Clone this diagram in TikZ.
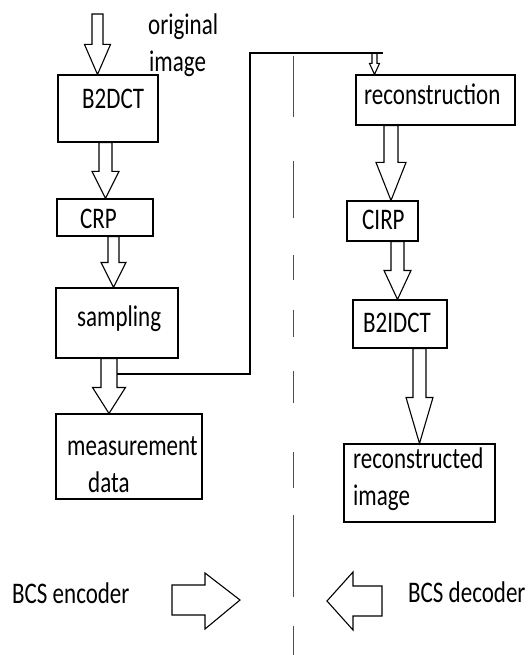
\documentclass[tikz,border=0pt]{standalone}
\usepackage{fontspec}
\setmainfont{Carlito}
\usetikzlibrary{calc}

\tikzset{
  box/.style={draw=black, line width=1.1pt, inner sep=0pt},
  flow/.style={draw=black, line width=1.1pt, line join=miter},
  divider/.style={draw=black!70, line width=1.2pt},
  lbl/.style={font=\fontsize{23}{28.5}\selectfont, inner sep=0pt,
              anchor=base west, yscale=1.3, transform shape}
}

% hollow down arrow: x, from, to, shaft half width, head half width, head length
\newcommand{\fatarrow}[6]{%
  \draw[flow] let \p1=(#2), \p2=(#3) in
    ({(#1-#4)*1pt},\y1) -- ({(#1-#4)*1pt},{\y2+#6pt})
    -- ({(#1-#5)*1pt},{\y2+#6pt}) -- ({#1*1pt},\y2)
    -- ({(#1+#5)*1pt},{\y2+#6pt}) -- ({(#1+#4)*1pt},{\y2+#6pt})
    -- ({(#1+#4)*1pt},\y1) -- cycle;}

\begin{document}
\begin{tikzpicture}[x=1pt, y=-1pt]
  \useasboundingbox (0,0) rectangle (529,655);

  %% encoder side
  \node[box, minimum width=100pt, minimum height=67pt] (b2dct) at (108,108.5) {};
  \node[lbl] (t-b2dct) at (82,109) {B2DCT};
  \node[box, minimum width=96pt, minimum height=37pt] (crp) at (105,217.5) {};
  \node[lbl] (t-crp) at (80,228) {CRP};
  \node[box, minimum width=122pt, minimum height=70pt] (samp) at (117,323) {};
  \node[lbl] (t-samp) at (77,326) {sampling};
  \node[box, minimum width=146pt, minimum height=85pt] (meas) at (129,456.5) {};
  \node[lbl] (t-meas1) at (67,455) {measurement};
  \node[lbl] (t-meas2) at (88,492) {data};

  \node[lbl] (t-orig1) at (148,35) {original};
  \node[lbl] (t-orig2) at (149,72) {image};

  \coordinate (src) at (97.5,14);
  \fatarrow{97.5}{src}{b2dct.north}{5.5}{13}{30}
  \fatarrow{105.5}{b2dct.south}{crp.north}{6.5}{13.5}{27}
  \fatarrow{113.5}{crp.south}{samp.north}{5.5}{12.5}{25}
  \fatarrow{109}{samp.south}{meas.north}{8}{16.5}{26}

  %% decoder side
  \node[box, minimum width=159pt, minimum height=50pt] (recon) at (435.5,100) {};
  \node[lbl] (t-recon) at (364,105) {reconstruction};
  \node[box, minimum width=71pt, minimum height=40pt] (cirp) at (382.5,221) {};
  \node[lbl] (t-cirp) at (362,229) {CIRP};
  \node[box, minimum width=94pt, minimum height=48pt] (b2idct) at (400,324) {};
  \node[lbl] (t-b2idct) at (363,332) {B2IDCT};
  \node[box, minimum width=151pt, minimum height=78pt] (rimg) at (419.5,483) {};
  \node[lbl] (t-rimg1) at (353,468) {reconstructed};
  \node[lbl] (t-rimg2) at (353,505) {image};

  \fatarrow{391}{recon.south}{cirp.north}{7}{15}{38}
  \fatarrow{397.5}{cirp.south}{b2idct.north}{6.5}{13.5}{29}
  \fatarrow{419.5}{b2idct.south}{rimg.north}{6.5}{13.5}{46}

  %% channel from sampling to reconstruction
  \coordinate (tap) at (117,374);
  \coordinate (bend) at (250,53);
  \coordinate (lineend) at (383,53);
  \coordinate (drop) at (374.5,53);
  \draw[flow] (tap) -- (tap -| bend) -- (bend) -- (lineend);
  \fatarrow{374.5}{drop}{recon.north}{2.5}{5}{11}

  %% encoder / decoder split
  \foreach \a/\b in {56/117,161/218,255/280,310/337,371/403,452/488,515/597,626/655}
    \draw[divider] (293.5,\a) -- (293.5,\b);

  \node[lbl] (t-enc) at (12,603) {BCS encoder};
  \node[lbl] (t-dec) at (408,602) {BCS decoder};
  \draw[flow] (172,585) -- (205,585) -- (205,573) -- (240,600)
    -- (205,629) -- (205,615) -- (172,615) -- cycle;
  \draw[flow] (382,586) -- (353,586) -- (353,572) -- (327,601)
    -- (353,630) -- (353,616) -- (382,616) -- cycle;

\end{tikzpicture}
\end{document}
